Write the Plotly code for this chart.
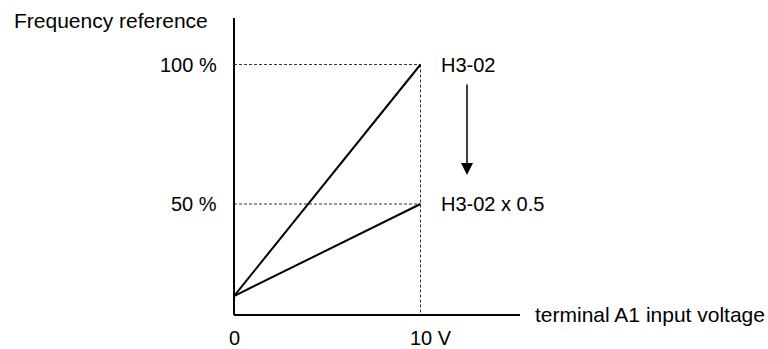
import plotly.graph_objects as go

# Data (schematic)
voltage = [0, 10]                 # V
bias = 17.0                       # % at 0 V (schematic start point)
gain_full = [bias, 100]           # H3-02
gain_half = [bias, 50]            # H3-02 x 0.5
ref_levels = [100, 50]
ref_labels = ["100 %", "50 %"]
gain_labels = ["H3-02", "H3-02 x 0.5"]
x_tick_vals = [0, 10]
x_tick_labels = ["0", "10 V"]

W, H = 768, 349
# pixel mapping
px0, pxs = 234.0, 18.65     # x pixel of 0 V, pixels per volt
py0, pys = 343.5, 2.79      # y pixel of 0 %, pixels per %
xr = [(0 - px0) / pxs, (W - px0) / pxs]
yr = [(py0 - H) / pys, py0 / pys]

def xd(px):
    return (px - px0) / pxs

def yd(py):
    return (py0 - py) / pys

FONT = "Liberation Sans, Arial, sans-serif"
FS = 20
FT = 21
fig = go.Figure()

# axes
y_axis_bottom = yd(315)
fig.add_trace(go.Scatter(x=[0, 0], y=[y_axis_bottom, yd(18)], mode="lines",
                         line=dict(color="black", width=2), showlegend=False, hoverinfo="skip"))
fig.add_trace(go.Scatter(x=[0, xd(520)], y=[y_axis_bottom, y_axis_bottom], mode="lines",
                         line=dict(color="black", width=2), showlegend=False, hoverinfo="skip"))

# dotted guides
for lv in ref_levels:
    fig.add_trace(go.Scatter(x=[0, voltage[1]], y=[lv, lv], mode="lines",
                             line=dict(color="#333333", width=1, dash="3px,2px"),
                             showlegend=False, hoverinfo="skip"))
fig.add_trace(go.Scatter(x=[voltage[1], voltage[1]], y=[max(ref_levels), y_axis_bottom], mode="lines",
                         line=dict(color="#333333", width=1, dash="3px,2px"),
                         showlegend=False, hoverinfo="skip"))

# gain lines
for ys in (gain_full, gain_half):
    fig.add_trace(go.Scatter(x=voltage, y=ys, mode="lines",
                             line=dict(color="black", width=2), showlegend=False, hoverinfo="skip"))

ann = []
# y labels
for lv, lab in zip(ref_levels, ref_labels):
    ann.append(dict(x=xd(219), y=lv, text=lab, xanchor="right", yanchor="middle",
                    showarrow=False, font=dict(size=FS, color="black", family=FONT)))
# gain labels
for lv, lab in zip(ref_levels, gain_labels):
    ann.append(dict(x=xd(439), y=lv, text=lab, xanchor="left", yanchor="middle",
                    showarrow=False, font=dict(size=FS, color="black", family=FONT)))
# x tick labels
for xv, lab in zip(x_tick_vals, x_tick_labels):
    ann.append(dict(x=xv, y=yd(338), text=lab, xanchor="center" if xv == 0 else "left",
                    yanchor="middle", showarrow=False,
                    xshift=0 if xv == 0 else -13,
                    font=dict(size=FS, color="black", family=FONT)))
# axis titles
ann.append(dict(x=xd(12), y=yd(20), text="Frequency reference", xanchor="left", yanchor="middle",
                showarrow=False, font=dict(size=FT, color="black", family=FONT)))
ann.append(dict(x=xd(533), y=yd(314), text="terminal A1 input voltage", xanchor="left",
                yanchor="middle", showarrow=False, font=dict(size=FT, color="black", family=FONT)))
# arrow
ann.append(dict(x=xd(467), y=yd(175), ax=xd(467), ay=yd(83), axref="x", ayref="y",
                xref="x", yref="y", text="", showarrow=True, arrowhead=2, arrowsize=1.6,
                arrowwidth=1.5, arrowcolor="black"))

fig.update_layout(
    width=W, height=H, margin=dict(l=0, r=0, t=0, b=0),
    paper_bgcolor="white", plot_bgcolor="white",
    xaxis=dict(range=xr, visible=False, fixedrange=True),
    yaxis=dict(range=yr, visible=False, fixedrange=True),
    annotations=ann, showlegend=False,
)
fig.write_html("out.html",
               post_script="document.body.style.margin='0';document.body.style.overflow='hidden';",
               config={"displayModeBar": False})
